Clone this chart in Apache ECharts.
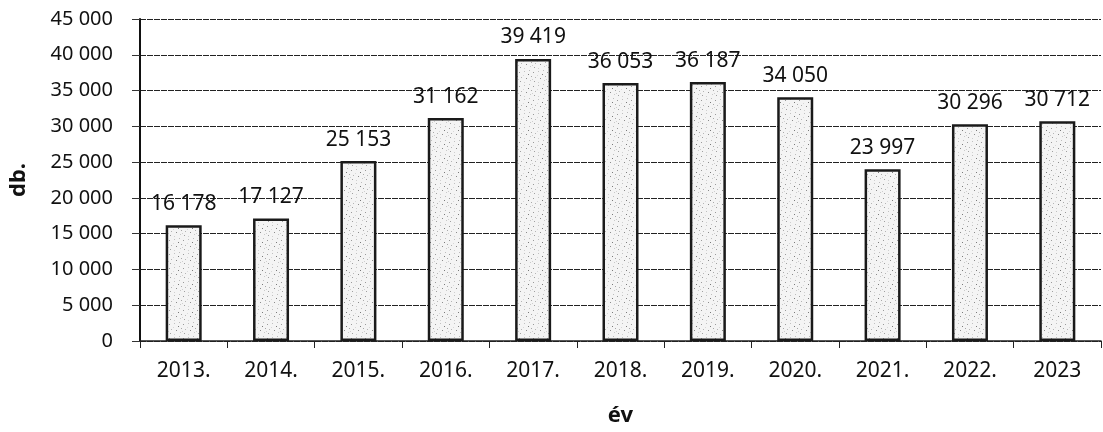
<!DOCTYPE html>
<html>
<head>
<meta charset="utf-8">
<style>
  html, body { margin: 0; padding: 0; background: #fff; }
  #chart { width: 1103px; height: 432px; }
</style>
<script src="https://cdn.jsdelivr.net/npm/echarts@6/dist/echarts.min.js"></script>
</head>
<body>
<div id="chart"></div>
<script>
// Yearly counts (db.)
const years = ['2013.', '2014.', '2015.', '2016.', '2017.', '2018.', '2019.', '2020.', '2021.', '2022.', '2023'];
const counts = [16178, 17127, 25153, 31162, 39419, 36053, 36187, 34050, 23997, 30296, 30712];
const yTicks = { min: 0, max: 45000, interval: 5000 };

// Thousands separated by a space, e.g. 45 000
function fmt(v) {
  return String(v).replace(/\B(?=(\d{3})+(?!\d))/g, ' ');
}

// Stippled fill for the bars: a small tile with fixed grey dots
function stipple() {
  const c = document.createElement('canvas');
  c.width = 14; c.height = 14;
  const g = c.getContext('2d');
  g.fillStyle = '#f4f4f4';
  g.fillRect(0, 0, 14, 14);
  const dots = [[1,2,'#9a9a9a'],[6,1,'#c0c0c0'],[10,4,'#7a7a7a'],[3,7,'#b5b5b5'],[8,8,'#8c8c8c'],
                [12,10,'#c8c8c8'],[2,11,'#a0a0a0'],[6,12,'#d0d0d0'],[11,0,'#bdbdbd'],[5,5,'#d8d8d8'],
                [13,6,'#a8a8a8'],[0,9,'#cfcfcf']];
  dots.forEach(([x, y, col]) => { g.fillStyle = col; g.fillRect(x, y, 1, 1); });
  return c;
}

const chart = echarts.init(document.getElementById('chart'), null, { renderer: 'canvas' });
const font = 'Noto Sans, sans-serif';

chart.setOption({
  animation: false,
  grid: { left: 140, right: 2, top: 19, bottom: 89 },
  xAxis: {
    type: 'category',
    data: years,
    name: 'év',
    nameLocation: 'middle',
    nameGap: 64,
    nameTextStyle: { fontFamily: font, fontSize: 22, fontWeight: 'bold', color: '#111' },
    axisLine: { lineStyle: { color: '#222', width: 1.5 } },
    axisTick: { show: true, length: 7, lineStyle: { color: '#222' } },
    axisLabel: { fontFamily: font, fontSize: 21, color: '#111', margin: 20 }
  },
  yAxis: {
    type: 'value',
    min: yTicks.min,
    max: yTicks.max,
    interval: yTicks.interval,
    name: 'db.',
    nameLocation: 'middle',
    nameGap: 110,
    nameRotate: 90,
    nameTextStyle: { fontFamily: font, fontSize: 22, fontWeight: 'bold', color: '#111' },
    axisLine: { show: true, lineStyle: { color: '#111', width: 2 } },
    axisTick: { show: true, length: 8, lineStyle: { color: '#333' } },
    axisLabel: { fontFamily: font, fontSize: 20, color: '#111', margin: 27, formatter: fmt },
    splitLine: { lineStyle: { color: '#222', width: 1.2, type: [6, 1] } }
  },
  series: [{
    type: 'bar',
    data: counts,
    barWidth: 36,
    itemStyle: {
      color: { image: stipple(), repeat: 'repeat' },
      borderColor: '#1a1a1a',
      borderWidth: 2.5
    },
    label: {
      show: true,
      position: 'top',
      distance: 11,
      fontFamily: font,
      fontSize: 21,
      color: '#111',
      formatter: p => fmt(p.value)
    }
  }]
});
</script>
</body>
</html>
